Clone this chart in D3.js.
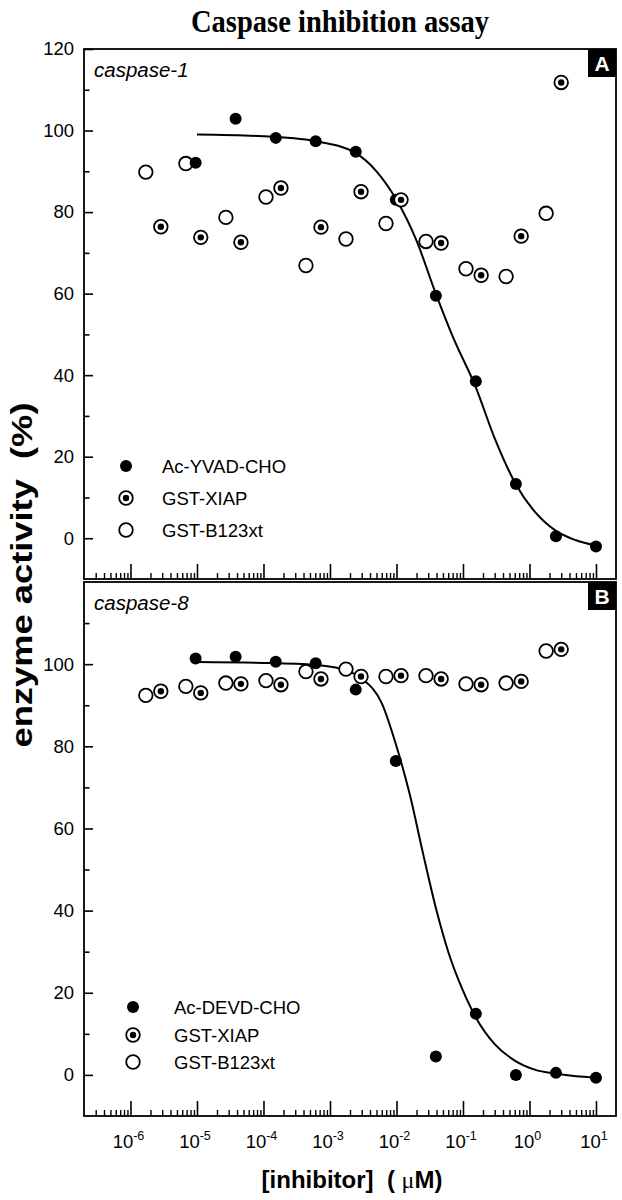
<!DOCTYPE html>
<html><head><meta charset="utf-8">
<script src="https://cdn.jsdelivr.net/npm/d3@7"></script>
<style>body{margin:0;background:#fff}svg{display:block}</style>
</head><body>
<svg id="c" width="622" height="1200"></svg>
<script>
// ---- data (concentrations in µM, activity in %) ----
const concInhibitor = [9.54e-6, 3.81e-5, 1.53e-4, 6.10e-4, 2.44e-3, 9.77e-3, 0.0391, 0.156, 0.625, 2.5, 10];
const concXIAP      = [2.86e-6, 1.14e-5, 4.58e-5, 1.83e-4, 7.32e-4, 2.93e-3, 0.0117, 0.0469, 0.1875, 0.75, 3.0];
const concB123      = [1.70e-6, 6.80e-6, 2.72e-5, 1.09e-4, 4.35e-4, 1.74e-3, 6.95e-3, 0.0278, 0.111, 0.445, 1.78];

const casp1_YVAD = [92.1, 102.9, 98.2, 97.4, 94.8, 83.0, 59.5, 38.5, 13.3, 0.5, -2.0];
const casp1_XIAP = [76.4, 73.8, 72.6, 85.9, 76.3, 85.0, 83.0, 72.4, 64.5, 74.1, 111.8];
const casp1_B123 = [89.8, 91.9, 78.7, 83.7, 66.9, 73.4, 77.2, 72.8, 66.1, 64.2, 79.7];

const casp8_DEVD = [101.4, 101.8, 100.6, 100.2, 93.8, 76.4, 4.5, 14.9, 0.0, 0.5, -0.7];
const casp8_XIAP = [93.4, 93.0, 95.2, 95.0, 96.4, 97.0, 97.2, 96.4, 95.0, 95.8, 103.6];
const casp8_B123 = [92.4, 94.6, 95.4, 96.0, 98.2, 98.8, 97.0, 97.2, 95.2, 95.4, 103.2];

// fitted curves
const fitA_x = [1e-5, 1e-4, 6e-4, 2.4e-3, 5e-3, 1e-2, 2e-2, 3.9e-2, 7e-2, 0.156, 0.3, 0.625, 1.2, 2.5, 5, 10];
const fitA_y = [99, 98.6, 97.4, 94.5, 90, 83, 73, 60, 49.5, 37, 24.5, 13.2, 6.5, 1.8, -0.5, -1.8];
const fitB_x = [1e-5, 1e-4, 6e-4, 1.5e-3, 3e-3, 6e-3, 1e-2, 1.6e-2, 2.5e-2, 4e-2, 6e-2, 0.1, 0.156, 0.3, 0.6, 1.2, 2.5, 5, 10];
const fitB_y = [100.5, 100.3, 99.8, 98.8, 96.5, 90.5, 80, 68, 54, 40, 30, 20.5, 14, 7.5, 3.5, 1.3, 0.3, -0.3, -0.6];

const xMajor = [1e-6, 1e-5, 1e-4, 1e-3, 1e-2, 1e-1, 1, 10];
const xExp   = ["-6", "-5", "-4", "-3", "-2", "-1", "0", "1"];
const yMajorA = [0, 20, 40, 60, 80, 100, 120];
const yMajorB = [0, 20, 40, 60, 80, 100];
const yMinor  = [10, 30, 50, 70, 90, 110];

const legendA = ["Ac-YVAD-CHO", "GST-XIAP", "GST-B123xt"];
const legendB = ["Ac-DEVD-CHO", "GST-XIAP", "GST-B123xt"];

// ---- layout ----
const svg = d3.select('#c');
const L = 84, R = 616;
const SANS = "'Liberation Sans', Arial, Helvetica, sans-serif";
const x = d3.scaleLog().domain([2e-7, 20]).range([L, R]);
const yA = d3.scaleLinear().domain([-10, 120]).range([579, 49]);
const yB = d3.scaleLinear().domain([-10, 120]).range([1116, 582]);

const xMinor = [];
for (let e = -7; e <= 1; e++) for (let m = 2; m <= 9; m++) {
  const v = m * Math.pow(10, e);
  if (v > 2.01e-7 && v < 19.9) xMinor.push(v);
}

// title (tall, condensed serif)
svg.append('text').attr('x', 340).attr('y', 32).attr('text-anchor', 'middle')
  .attr('font-family', "'Liberation Serif', 'Times New Roman', serif").attr('font-weight', 'bold')
  .attr('font-size', 32).attr('textLength', 298).attr('lengthAdjust', 'spacingAndGlyphs')
  .text('Caspase inhibition assay');

function panel(y, name, letter, labelYs, series, fx, fy, legend, legX, legTextX, legYs) {
  const g = svg.append('g');
  const [b, t] = y.range();
  const ay = d3.axisLeft(y).tickValues(labelYs).tickSizeInner(-9).tickSizeOuter(0).tickPadding(10);
  const gy = g.append('g').attr('transform', `translate(${L},0)`).call(ay);
  gy.select('.domain').remove();
  gy.selectAll('line').attr('stroke', '#000').attr('stroke-width', 1.6);
  gy.selectAll('text').attr('font-family', SANS).attr('font-size', 18.5).attr('fill', '#000');
  const aym = d3.axisLeft(y).tickValues(yMinor).tickSizeInner(-5.5).tickSizeOuter(0).tickFormat('');
  const gym = g.append('g').attr('transform', `translate(${L},0)`).call(aym);
  gym.select('.domain').remove();
  gym.selectAll('line').attr('stroke', '#000').attr('stroke-width', 1.6);
  const ax = d3.axisBottom(x).tickValues(xMajor).tickSizeInner(-15).tickSizeOuter(0).tickFormat('');
  const gx = g.append('g').attr('transform', `translate(0,${b})`).call(ax);
  gx.select('.domain').remove();
  gx.selectAll('line').attr('stroke', '#000').attr('stroke-width', 1.6);
  const axm = d3.axisBottom(x).tickValues(xMinor).tickSizeInner(-6).tickSizeOuter(0).tickFormat('');
  const gxm = g.append('g').attr('transform', `translate(0,${b})`).call(axm);
  gxm.select('.domain').remove();
  gxm.selectAll('line').attr('stroke', '#000').attr('stroke-width', 1.4);
  g.append('rect').attr('x', L).attr('y', t).attr('width', R - L).attr('height', b - t)
    .attr('fill', 'none').attr('stroke', '#000').attr('stroke-width', 1.8);
  const line = d3.line().x(d => x(d[0])).y(d => y(d[1])).curve(d3.curveMonotoneX);
  g.append('path').datum(fx.map((v, i) => [v, fy[i]])).attr('d', line)
    .attr('fill', 'none').attr('stroke', '#000').attr('stroke-width', 2);
  const [filled, dotted, open] = series;
  const open_ = open[0].map((v, i) => [v, open[1][i]]);
  g.selectAll('.op').data(open_).join('circle').attr('cx', d => x(d[0])).attr('cy', d => y(d[1]))
    .attr('r', 6.8).attr('fill', '#fff').attr('stroke', '#000').attr('stroke-width', 1.8);
  const fil_ = filled[0].map((v, i) => [v, filled[1][i]]);
  g.selectAll('.fl').data(fil_).join('circle').attr('cx', d => x(d[0])).attr('cy', d => y(d[1]))
    .attr('r', 6).attr('fill', '#000');
  const dot_ = dotted[0].map((v, i) => [v, dotted[1][i]]);
  const gd = g.selectAll('.dt').data(dot_).join('g')
    .attr('transform', d => `translate(${x(d[0])},${y(d[1])})`);
  gd.append('circle').attr('r', 6.8).attr('fill', '#fff').attr('stroke', '#000').attr('stroke-width', 1.8);
  gd.append('circle').attr('r', 3.2).attr('fill', '#000');
  legend.forEach((txt, i) => {
    const ly = legYs[i];
    if (i === 0) g.append('circle').attr('cx', legX).attr('cy', ly).attr('r', 6).attr('fill', '#000');
    else {
      g.append('circle').attr('cx', legX).attr('cy', ly).attr('r', 6.8).attr('fill', '#fff')
        .attr('stroke', '#000').attr('stroke-width', 1.8);
      if (i === 1) g.append('circle').attr('cx', legX).attr('cy', ly).attr('r', 3.2).attr('fill', '#000');
    }
    g.append('text').attr('x', legTextX).attr('y', ly + 6.5).attr('font-family', SANS)
      .attr('font-size', 18.5).text(txt);
  });
  g.append('text').attr('x', 94).attr('y', t + 28).attr('font-family', SANS).attr('font-style', 'italic')
    .attr('font-size', 20.5).text(name);
  g.append('rect').attr('x', R - 28).attr('y', t).attr('width', 28).attr('height', 28).attr('fill', '#000');
  g.append('text').attr('x', R - 14).attr('y', t + 21.5).attr('text-anchor', 'middle').attr('fill', '#fff')
    .attr('font-family', SANS).attr('font-weight', 'bold').attr('font-size', 21).text(letter);
}

panel(yA, 'caspase-1', 'A', yMajorA,
  [[concInhibitor, casp1_YVAD], [concXIAP, casp1_XIAP], [concB123, casp1_B123]],
  fitA_x, fitA_y, legendA, 126, 162, [466, 498, 530]);
panel(yB, 'caspase-8', 'B', yMajorB,
  [[concInhibitor, casp8_DEVD], [concXIAP, casp8_XIAP], [concB123, casp8_B123]],
  fitB_x, fitB_y, legendB, 133, 174, [1007, 1035, 1062]);

xMajor.forEach((v, i) => {
  const t = svg.append('text').attr('x', x(v) - 2).attr('y', 1148).attr('text-anchor', 'middle')
    .attr('font-family', SANS).attr('font-size', 18.5);
  t.append('tspan').text('10');
  t.append('tspan').attr('dy', -8).attr('font-size', 12.5).text(xExp[i]);
});

const xt = svg.append('text').attr('x', 352).attr('y', 1188).attr('text-anchor', 'middle')
  .attr('font-family', SANS).attr('font-weight', 'bold').attr('font-size', 24);
xt.append('tspan').text('[inhibitor]\u00a0\u00a0(\u00a0');
xt.append('tspan').attr('font-family', "'Liberation Serif', 'Times New Roman', serif").attr('font-weight', 'normal').text('\u03bc');
xt.append('tspan').text('M)');

svg.append('text').attr('transform', 'translate(32,575) rotate(-90)').attr('text-anchor', 'middle')
  .attr('font-family', SANS).attr('font-weight', 'bold').attr('font-size', 30)
  .attr('textLength', 345).attr('lengthAdjust', 'spacingAndGlyphs')
  .text('enzyme activity\u00a0\u00a0(%)');
</script>
</body></html>
